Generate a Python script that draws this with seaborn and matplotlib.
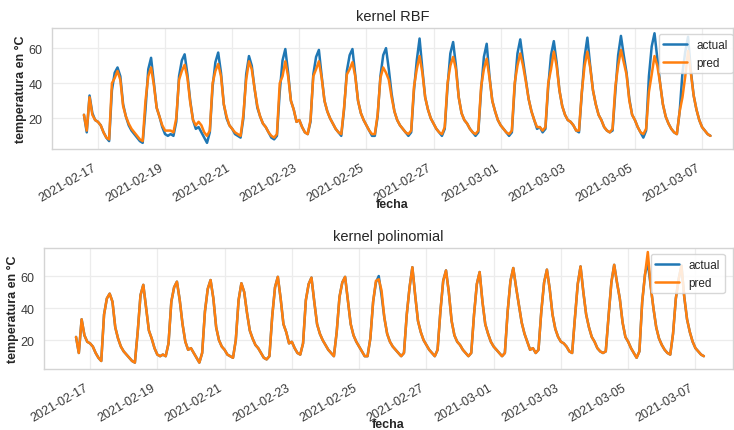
import matplotlib
matplotlib.use("Agg")
import matplotlib.pyplot as plt
import seaborn as sns
import pandas as pd

# ---------------- data (2-hourly readings, starting 2021-02-16 14:00) ----------------
start = "2021-02-16 14:00"
step = "2h"

actual = [
    22, 12, 33, 23, 19,                                   # 02-16 (14h..22h)
    18, 16, 12, 9, 7, 36, 46, 49, 44, 28, 21, 16,         # 02-17
    13, 11, 9, 7, 6, 25, 48, 54.5, 40, 26, 21, 15,        # 02-18
    11, 10, 11, 10, 18, 44, 53, 56.5, 45, 30, 19, 14,     # 02-19
    15, 12, 9, 6, 12, 38, 52, 57.5, 46, 28, 20, 16,       # 02-20
    14, 11, 10, 9, 20, 45, 55.5, 50, 37, 26, 21, 17,      # 02-21
    15, 12, 9, 8, 10, 35, 53, 59.5, 46, 30, 25, 18,       # 02-22
    19, 15, 12, 11, 18, 45, 55, 59, 44, 30, 24, 20,       # 02-23
    17, 14, 12, 10, 25, 47, 56, 59.5, 45, 30, 23, 19,     # 02-24
    16, 13, 10, 10, 21, 44, 56, 60, 48, 34, 24, 19,       # 02-25
    16, 14, 12, 10, 12, 36, 53, 65.5, 48, 32, 25, 20,     # 02-26
    17, 14, 12, 10, 14, 38, 57, 63.5, 50, 32, 23, 19,     # 02-27
    17, 14, 12, 10, 12, 36, 55, 62.5, 44, 30, 24, 19,     # 02-28
    16, 14, 12, 10, 12, 38, 57, 65, 53, 42, 31, 24,       # 03-01
    19, 14, 15, 12, 14, 38, 56, 64, 52, 36, 27, 22,       # 03-02
    19, 18, 16, 13, 12, 34, 55, 66, 50, 36, 28, 22,       # 03-03
    19, 15, 13, 12, 13, 35, 56, 67, 56, 46, 31, 22,       # 03-04
    19, 15, 12, 9, 13, 44, 61, 68.5, 54, 40, 28, 21,      # 03-05
    17, 14, 12, 11, 24, 46, 58, 66.5, 47, 33, 25, 19,     # 03-06
    15, 13, 11, 10,                                       # 03-07 (0h..6h)
]

pred_rbf = [
    22, 13, 32, 22, 19,
    18, 16, 12, 9, 8, 40, 43, 47, 42, 27, 21, 17,
    14, 12, 10, 8, 7, 30, 44, 49, 39, 26, 21, 16,
    13, 13, 13, 12, 20, 42, 47, 50.5, 43, 29, 19, 16,
    18, 16, 12, 10, 13, 40, 47, 51, 44, 28, 21, 16,
    14, 12, 11, 10, 22, 42, 52.5, 48, 37, 27, 21, 17,
    15, 12, 10, 9, 11, 40, 44, 52.5, 44, 30, 25, 18,
    19, 15, 12, 11, 19, 44, 48, 52.5, 43, 30, 24, 20,
    17, 14, 12, 11, 26, 45, 48, 52, 44, 30, 23, 19,
    16, 13, 11, 11, 22, 43, 49, 46, 42, 32, 24, 19,
    16, 14, 12, 11, 13, 38, 48, 55.5, 46, 32, 25, 20,
    17, 14, 12, 11, 15, 40, 50, 55, 48, 32, 23, 19,
    17, 14, 12, 11, 13, 38, 48, 54, 43, 30, 24, 19,
    16, 14, 12, 11, 13, 40, 50, 57, 50, 41, 31, 24,
    19, 15, 15, 13, 15, 40, 48, 58, 50, 36, 27, 22,
    19, 18, 16, 13, 13, 35, 50, 58, 49, 36, 28, 22,
    19, 15, 13, 12, 14, 38, 50, 59, 52, 45, 30, 22,
    19, 15, 12, 11, 14, 35, 45, 55.5, 50, 40, 28, 21,
    17, 14, 12, 11, 24, 32, 44, 58.5, 46, 33, 25, 19,
    15, 13, 11, 10,
]

pred_poly = [
    22, 12, 33, 23, 19,
    18, 16, 12, 9, 7, 36, 46, 49, 44, 28, 21, 16,
    13, 11, 9, 7, 6, 25, 48, 54.5, 40, 26, 21, 15,
    11, 10, 11, 10, 18, 44, 53, 56.5, 45, 30, 19, 14,
    15, 12, 9, 6, 12, 38, 52, 57.5, 46, 28, 20, 16,
    14, 11, 10, 9, 20, 45, 55.5, 50, 37, 26, 21, 17,
    15, 12, 9, 8, 10, 35, 53, 59.5, 46, 30, 25, 18,
    19, 15, 12, 11, 18, 45, 55, 59, 44, 30, 24, 20,
    17, 14, 12, 10, 25, 47, 56, 59.5, 45, 30, 23, 19,
    16, 13, 10, 10, 21, 44, 57, 58, 51, 34, 24, 19,
    16, 14, 12, 10, 12, 36, 53, 65.5, 48, 32, 25, 20,
    17, 14, 12, 10, 14, 38, 57, 63.5, 50, 32, 23, 19,
    17, 14, 12, 10, 12, 36, 55, 62.5, 44, 30, 24, 19,
    16, 14, 12, 10, 12, 38, 57, 65, 53, 42, 31, 24,
    19, 14, 15, 12, 14, 38, 56, 64, 52, 36, 27, 22,
    19, 18, 16, 13, 12, 34, 55, 66, 50, 36, 28, 22,
    19, 15, 13, 12, 13, 35, 56, 67, 56, 46, 31, 22,
    19, 15, 12, 9, 13, 44, 61, 75, 54, 40, 28, 21,
    17, 14, 12, 11, 24, 46, 58, 66.5, 47, 33, 25, 19,
    15, 13, 11, 10,
]

titles = ["kernel RBF", "kernel polinomial"]
series_labels = ["actual", "pred"]
tick_dates = ["2021-02-17", "2021-02-19", "2021-02-21", "2021-02-23", "2021-02-25",
              "2021-02-27", "2021-03-01", "2021-03-03", "2021-03-05", "2021-03-07"]
yticks = [20, 40, 60]

# ---------------- style ----------------
sns.set_theme(style="whitegrid")
plt.rcParams["font.family"] = ["Liberation Sans", "DejaVu Sans"]

fecha = pd.date_range(start, periods=len(actual), freq=step)

W, H = 734, 431
fig = plt.figure(figsize=(W / 100, H / 100), dpi=100)
ax1 = fig.add_axes([52 / W, 1 - 150 / H, 681 / W, 121 / H])
ax2 = fig.add_axes([44 / W, 1 - 370 / H, 689 / W, 121 / H])

cfg = [
    (ax1, pred_rbf, titles[0], ("2021-02-15 15:09", "2021-03-07 22:08"), (2.5, 71.5), (0.891, 0.95)),
    (ax2, pred_poly, titles[1], ("2021-02-15 15:09", "2021-03-08 02:47"), (2.0, 77.5), (0.8806, 0.95)),
]

for ax, pred, title, xlim, ylim, anchor in cfg:
    df = pd.DataFrame({"fecha": fecha, "actual": actual, "pred": pred})
    sns.lineplot(data=df, x="fecha", y="actual", ax=ax, color="#1f77b4",
                 linewidth=1.8, label=series_labels[0])
    sns.lineplot(data=df, x="fecha", y="pred", ax=ax, color="#ff7f0e",
                 linewidth=1.8, label=series_labels[1])
    ax.set_xlim(pd.Timestamp(xlim[0]), pd.Timestamp(xlim[1]))
    ax.set_ylim(*ylim)
    ax.set_xticks(pd.to_datetime(tick_dates))
    ax.set_xticklabels(tick_dates)
    ax.set_yticks(yticks)
    ax.tick_params(axis="both", labelsize=9, colors="#3a3a3a")
    ax.tick_params(axis="x", pad=3)
    ax.tick_params(axis="y", pad=1)
    for lab in ax.get_xticklabels():
        lab.set_rotation(30)
        lab.set_ha("right")
    ax.set_title(title, fontsize=10.5, color="#262626")
    ax.set_xlabel("fecha", fontsize=9, fontweight="bold", color="#262626", labelpad=-4.5)
    ax.set_ylabel("temperatura en °C", fontsize=9, fontweight="bold", color="#262626", labelpad=1)
    ax.grid(True, color="#ececec", linewidth=0.9)
    for sp in ax.spines.values():
        sp.set_color("#d4d4d4")
        sp.set_linewidth(1.0)
    ax.legend(loc="upper left", bbox_to_anchor=anchor, fontsize=8.5,
              frameon=True, framealpha=0.85, edgecolor="#d0d0d0", borderaxespad=0)

fig.savefig("out.png", dpi=100)
